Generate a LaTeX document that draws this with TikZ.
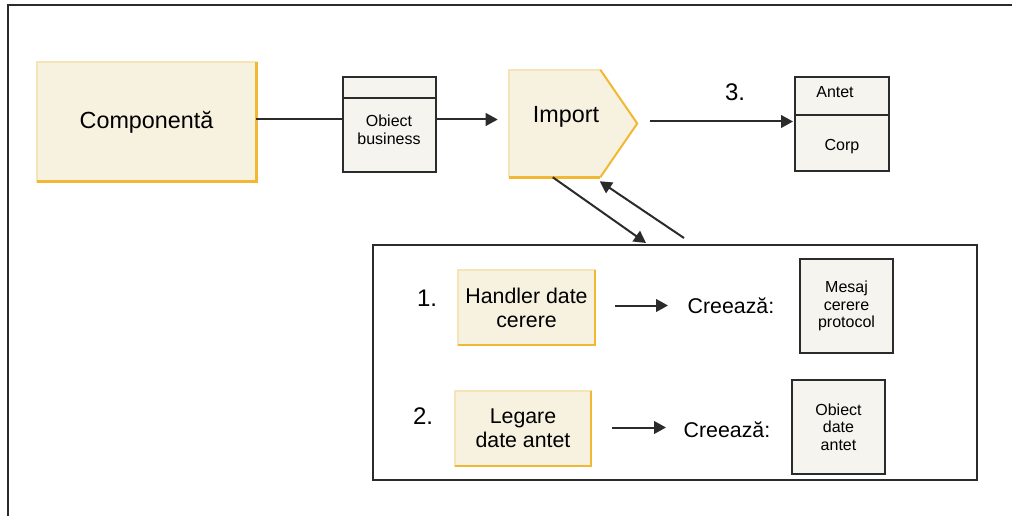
\documentclass[tikz,border=0pt]{standalone}
\usepackage{fontspec}
\setmainfont{Liberation Sans}
\usetikzlibrary{arrows.meta,calc}
\definecolor{cream}{HTML}{F7F1DF}
\definecolor{lightyel}{HTML}{F5E4B6}
\definecolor{darkyel}{HTML}{F2B733}
\definecolor{paper}{HTML}{F6F4EE}
\definecolor{ink}{HTML}{2B2B2B}
\tikzset{
  yelbox/.style={rectangle, fill=cream, draw=lightyel, line width=1.2pt, inner sep=0pt, outer sep=0pt, align=center},
  databox/.style={rectangle, fill=paper, draw=ink, line width=1.5pt, inner sep=0pt, outer sep=0pt},
  conn/.style={draw=ink, line width=1.5pt},
  arr/.style={conn, -{Triangle[length=9pt,width=9.5pt]}},
  edgeyel/.style={draw=darkyel, line width=2.25pt},
  big/.style={font=\fontsize{17.5}{20}\selectfont},
  mid/.style={font=\fontsize{16}{18}\selectfont, align=center},
  small/.style={font=\fontsize{12}{13.2}\selectfont, align=center},
  num/.style={font=\fontsize{18}{20}\selectfont},
}
\begin{document}
\begin{tikzpicture}[x=0.75pt, y=-0.75pt]
  \useasboundingbox (0,0) rectangle (1012,516);
  % Frame
  \draw[ink, line width=1.5pt] (8,516) -- (8,5) -- (1012,5);
  % Top row
  \node (comp) [yelbox, minimum width=164.25pt, minimum height=90pt, big] at (146.5,122) {Componentă};
  \draw[edgeyel] (comp.north east) -- (comp.south east) -- (comp.south west);
  \node (obj) [databox, minimum width=69.75pt, minimum height=71.25pt] at (389.5,124.5) {};
  \draw[conn] ($(obj.north west)+(0,21)$) -- ($(obj.north east)+(0,21)$);
  \node (objtxt) [small] at (389,129.5) {Obiect\\business};
  \node (imp) [minimum width=96pt, minimum height=80.25pt, inner sep=0pt] at (573,123.5) {};
  \fill[cream] (imp.north west) -- ($(imp.north east)+(-37,0)$) -- (imp.east)
    -- ($(imp.south east)+(-37,0)$) -- (imp.south west) -- cycle;
  \draw[lightyel, line width=1.2pt] (imp.south west) -- (imp.north west) -- ($(imp.north east)+(-37,0)$);
  \draw[edgeyel, line width=1.5pt] ($(imp.north east)+(-37,0)$) -- (imp.east) -- ($(imp.south east)+(-37,0)$);
  \draw[edgeyel] ($(imp.south east)+(-37,0)$) -- (imp.south west);
  \node (imptxt) [big] at (566,117) {Import};
  \node (hdr) [databox, minimum width=70.5pt, minimum height=70.5pt] at (842,124) {};
  \draw[conn] ($(hdr.north west)+(0,38)$) -- ($(hdr.north east)+(0,38)$);
  \node (antet) [small] at (835,92) {Antet};
  \node (corp) [small] at (842,147) {Corp};
  \node (three) [num] at (735,92) {3.};
  % Top arrows
  \draw[conn] (obj.west) ++(0,-5) coordinate (l1) -- (l1 -| comp.east);
  \draw[arr] ($(obj.east)+(0,-5)$) -- ($(obj.east -| imp.west)+(-11,-5)$);
  \draw[arr] ($(imp.east)+(13,-2)$) coordinate (l3) -- ($(l3 -| hdr.west)+(-2,0)$);
  % Inner box
  \node (inr) [rectangle, draw=ink, line width=1.2pt, minimum width=453pt, minimum height=176.25pt, inner sep=0pt, outer sep=0pt] at (675,362.5) {};
  \draw[arr] ($(imp.south west)+(44,0)$) -- ($(inr.north west)+(273,-2)$);
  \draw[arr] ($(inr.north west)+(311,-7)$) -- ($(imp.south west)+(91,4)$);
  % Step 1
  \node (one) [num] at (427,298) {1.};
  \node (hnd) [yelbox, minimum width=102.75pt, minimum height=56.25pt, mid] at (526.5,307.5) {Handler date\\cerere};
  \draw[edgeyel, line width=1.5pt] (hnd.north east) -- (hnd.south east) -- (hnd.south west);
  \node (cr1) [mid] at (731,306) {Creează:};
  \draw[arr] ($(hnd.east)+(20,-2)$) -- ++(53,0);
  \node (msg) [databox, minimum width=69.75pt, minimum height=70.5pt, small] at (846.5,306) {Mesaj\\cerere\\protocol};
  % Step 2
  \node (two) [num] at (423,416) {2.};
  \node (leg) [yelbox, minimum width=102pt, minimum height=56.25pt, mid] at (523,428.5) {Legare\\date antet};
  \draw[edgeyel, line width=1.5pt] (leg.north east) -- (leg.south east) -- (leg.south west);
  \node (cr2) [mid] at (727,430) {Creează:};
  \draw[arr] ($(leg.east)+(21,-1)$) -- ++(54,0);
  \node (oda) [databox, minimum width=69.75pt, minimum height=70.5pt, small] at (838.5,427) {Obiect\\date\\antet};
\end{tikzpicture}
\end{document}
